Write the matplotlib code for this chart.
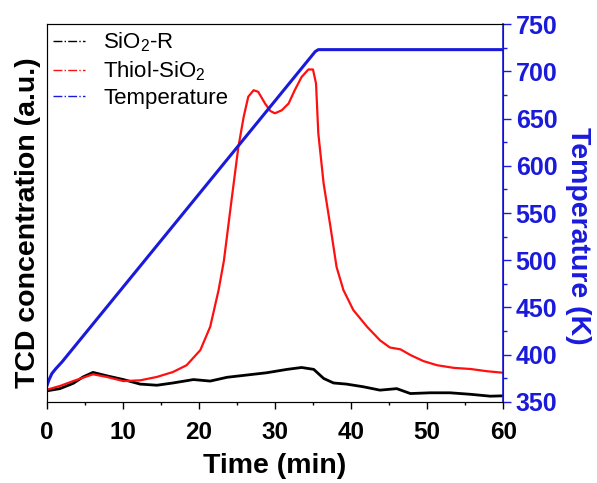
import matplotlib
matplotlib.use("Agg")
import matplotlib.pyplot as plt
from matplotlib.lines import Line2D
from matplotlib.ticker import MultipleLocator

plt.rcParams["font.family"] = ["Liberation Sans", "DejaVu Sans"]
plt.rcParams["mathtext.fontset"] = "custom"
plt.rcParams["mathtext.rm"] = "Liberation Sans"

# TCD signal, Thiol-SiO2 (arbitrary units)
t_thiol = [0.0, 1.75, 3.5, 6.1, 7.9, 10.1, 12.3, 14.5, 16.6, 18.4, 20.2, 21.5,
           22.6, 23.3, 24.3, 25.2, 25.9, 26.5, 27.2, 27.8, 28.7, 29.4, 30.0,
           30.9, 31.8, 32.6, 33.5, 34.4, 35.0, 35.4, 35.7, 36.4, 37.3, 38.1,
           39.0, 40.3, 42.1, 43.8, 45.1, 46.5, 47.8, 49.5, 51.3, 53.5, 55.7,
           57.9, 60.0]
tcd_thiol = [3.2, 4.2, 5.5, 7.3, 6.6, 5.5, 5.7, 6.6, 7.9, 9.7, 13.7, 19.9,
             29.6, 37.4, 53.4, 67.5, 75.5, 80.8, 82.5, 82.1, 79.0, 77.0, 76.4,
             77.2, 79.0, 82.5, 86.0, 88.0, 88.0, 84.3, 71.1, 57.8, 46.3, 35.7,
             29.6, 24.3, 19.9, 16.3, 14.4, 13.9, 12.4, 10.8, 9.7, 9.0, 8.7,
             8.1, 7.7]

# TCD signal, SiO2-R
t_ref = [0.0, 1.75, 3.5, 4.8, 6.1, 7.9, 10.1, 12.3, 14.5, 16.6, 19.3, 21.5,
         23.7, 26.3, 28.9, 31.6, 33.5, 35.1, 36.4, 37.7, 39.4, 41.6, 43.8,
         46.0, 47.8, 50.4, 53.0, 55.7, 58.3, 60.0]
tcd_ref = [2.9, 3.5, 4.9, 6.6, 7.8, 6.9, 5.9, 4.7, 4.4, 5.0, 5.9, 5.5,
           6.5, 7.1, 7.7, 8.6, 9.1, 8.6, 6.2, 5.0, 4.7, 4.0, 3.1,
           3.5, 2.2, 2.4, 2.4, 2.0, 1.5, 1.6]

# temperature program
t_temp = [0.0, 0.3, 0.7, 1.2, 2.0, 35.3, 35.7, 60.0]
temp_k = [366, 373, 380, 385, 392, 721, 723, 723]

blue = "#1a1adb"
fig = plt.figure(figsize=(5.97, 4.83), dpi=100)
ax = fig.add_axes([0.078, 0.168, 0.765, 0.782])
ax2 = ax.twinx()

ax.plot(t_ref, tcd_ref, color="black", lw=2.0)
ax.plot(t_thiol, tcd_thiol, color="#ff1010", lw=1.6)
ax2.plot(t_temp, temp_k, color=blue, lw=2.2)

ax.set_xlim(0, 60)
ax.set_ylim(0, 100)
ax2.set_ylim(350, 750)

# x ticks: majors every 10, minors every 5, both pointing out
ax.xaxis.set_major_locator(MultipleLocator(10))
ax.xaxis.set_minor_locator(MultipleLocator(5))
ax.tick_params(axis="x", which="major", direction="out", length=5, width=1,
               labelsize=17.5, pad=9)
ax.tick_params(axis="x", which="minor", direction="out", length=2.5, width=1)
ax.tick_params(axis="y", which="both", left=False, labelleft=False)
for lbl in ax.get_xticklabels():
    lbl.set_fontweight("bold")

ax2.yaxis.set_major_locator(MultipleLocator(50))
ax2.yaxis.set_minor_locator(MultipleLocator(25))
ax2.tick_params(axis="y", which="major", direction="out", length=6, width=1,
                colors=blue, labelsize=18, pad=3)
ax2.tick_params(axis="y", which="minor", direction="out", length=3, width=1,
                colors=blue)
for lbl in ax2.get_yticklabels():
    lbl.set_fontweight("bold")

for side in ["top", "left", "bottom"]:
    ax.spines[side].set_color("#333333")
ax2.spines["right"].set_color(blue)
ax2.spines["right"].set_linewidth(1.2)

ax.set_xlabel("Time (min)", fontsize=20.5, fontweight="bold", labelpad=6)
ax.set_ylabel("TCD concentration (a.u.)", fontsize=20.5, fontweight="bold",
              labelpad=4)
ax.yaxis.label.set_y(0.475)
ax2.set_ylabel("Temperature (K)", fontsize=20.5, fontweight="bold",
               color=blue, rotation=270, labelpad=24)
ax2.yaxis.label.set_y(0.44)

handles = [
    Line2D([], [], color="black", lw=1, ls="-."),
    Line2D([], [], color="#ff1010", lw=1, ls="-."),
    Line2D([], [], color=blue, lw=1, ls="-."),
]
labels = ["SiO$_2$-R", "Thiol-SiO$_2$", "Temperature"]
ax2.legend(handles, labels, loc="upper left", frameon=False, fontsize=16,
           handlelength=1.45, handletextpad=0.8, labelspacing=0.22,
           borderaxespad=0.1, borderpad=0.2)

fig.savefig("out.png", dpi=100)
